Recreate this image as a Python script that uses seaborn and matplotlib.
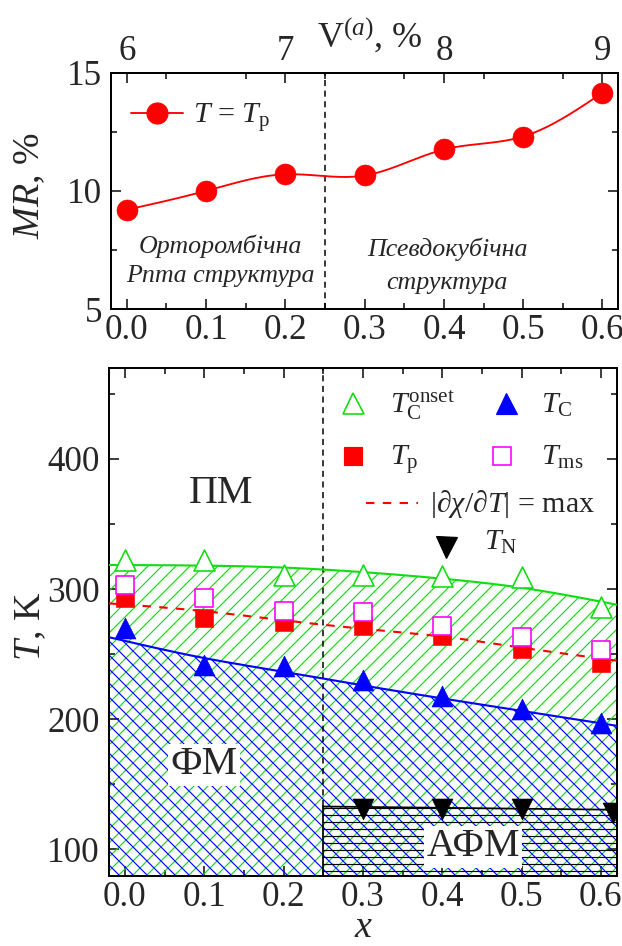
import numpy as np
import pandas as pd
import matplotlib
matplotlib.use("Agg")
import matplotlib.pyplot as plt
import seaborn as sns

# ---------------- data ----------------
x_comp = [0.0, 0.1, 0.2, 0.3, 0.4, 0.5, 0.6]
mr_tp = [9.2, 10.0, 10.7, 10.65, 11.75, 12.3, 14.15]

tc_onset = [322, 322, 311, 311, 310, 309.5, 286]
tc = [270, 242, 241, 230, 218, 208, 197]
tp = [293, 278, 275, 272, 264, 254, 243]
tms = [303, 293, 283, 282, 272, 263, 253]
x_tn = [0.3, 0.4, 0.5, 0.615]
tn = [131, 131, 131, 128]

# guide curves (nodes)
fit_x = [-0.02, 0.1, 0.2, 0.3, 0.4, 0.5, 0.62]
fit_onset = [318.5, 318, 316.5, 313, 308, 301, 288]
fit_tc = [263, 247, 236.5, 226, 216, 206.5, 195]
fit_dchi = [289, 283, 276, 269.5, 263.5, 255, 245]
afm_x = [0.25, 0.62]
afm_top = [133, 130.5]
x_boundary = 0.25

x_ticks = [0.0, 0.1, 0.2, 0.3, 0.4, 0.5, 0.6]
x_ticklabels = ["0.0", "0.1", "0.2", "0.3", "0.4", "0.5", "0.6"]
v_ticks = [6, 7, 8, 9]
mr_ticks = [5, 10, 15]
t_ticks = [100, 200, 300, 400]

# ---------------- style ----------------
sns.set_theme(style="ticks")
plt.rcParams["font.family"] = ["Liberation Serif", "DejaVu Serif"]
plt.rcParams["mathtext.fontset"] = "custom"
plt.rcParams["mathtext.rm"] = "Liberation Serif"
plt.rcParams["mathtext.it"] = "Liberation Serif:italic"
plt.rcParams["mathtext.bf"] = "Liberation Serif:bold"
plt.rcParams["hatch.linewidth"] = 1.0
plt.rcParams["axes.linewidth"] = 1.7

DPI = 84
PX = 72.0 / DPI  # points per pixel
W, H = 622, 946

GREEN = "#11dd11"
BLUE = "#0000ff"
RED = "#ff0000"
MAGENTA = "#ff00ff"

TICK_FS = 35 * PX
LABEL_FS = 38 * PX
VLAB_FS = 36 * PX
LEG_FS = 30 * PX
ANN_FS = 40 * PX
ITAL_FS = 26 * PX


def spline(xk, yk, n=300):
    xk = np.asarray(xk, float)
    yk = np.asarray(yk, float)
    m = len(xk)
    h = np.diff(xk)
    A = np.zeros((m, m))
    b = np.zeros(m)
    A[0, 0] = A[-1, -1] = 1.0
    for i in range(1, m - 1):
        A[i, i - 1] = h[i - 1]
        A[i, i] = 2 * (h[i - 1] + h[i])
        A[i, i + 1] = h[i]
        b[i] = 6 * ((yk[i + 1] - yk[i]) / h[i] - (yk[i] - yk[i - 1]) / h[i - 1])
    M = np.linalg.solve(A, b)
    xs = np.linspace(xk[0], xk[-1], n)
    idx = np.clip(np.searchsorted(xk, xs) - 1, 0, m - 2)
    xi, xj = xk[idx], xk[idx + 1]
    hi = xj - xi
    ys = (M[idx] * (xj - xs) ** 3 / (6 * hi) + M[idx + 1] * (xs - xi) ** 3 / (6 * hi)
          + (yk[idx] / hi - M[idx] * hi / 6) * (xj - xs)
          + (yk[idx + 1] / hi - M[idx + 1] * hi / 6) * (xs - xi))
    return xs, ys


fig = plt.figure(figsize=(W / DPI, H / DPI), dpi=DPI)
ax1 = fig.add_axes([111 / W, 1 - 309 / H, (618.3 - 111) / W, (309 - 72.7) / H])
ax2 = fig.add_axes([109 / W, 1 - 875.5 / H, (616.7 - 109) / W, (875.5 - 367.7) / H])

for ax in (ax1, ax2):
    ax.set_xlim(-0.02, 0.62)
    ax.set_xticks(x_ticks)
    ax.set_xticklabels(x_ticklabels)
    ax.set_xticks(np.arange(0.05, 0.6, 0.1), minor=True)
    ax.tick_params(which="both", direction="in", right=True, width=1.5,
                   labelsize=TICK_FS)
    ax.tick_params(which="major", length=10 * PX)
    ax.tick_params(which="minor", length=6 * PX)
    ax.tick_params(axis="y", pad=9 * PX)
    ax.tick_params(axis="x", pad=5 * PX)
    for s in ax.spines.values():
        s.set_linewidth(1.7)
        s.set_color("black")

# ---------------- top panel ----------------
df_mr = pd.DataFrame({"x": x_comp, "MR": mr_tp})
xs, ys = spline(df_mr["x"], df_mr["MR"])
sns.lineplot(x=xs, y=ys, ax=ax1, color=RED, lw=1.6, sort=False, estimator=None, zorder=3)
sns.scatterplot(data=df_mr, x="x", y="MR", ax=ax1, marker="o", s=(21 * PX) ** 2,
                color=RED, edgecolor=RED, linewidth=0.5, zorder=4, legend=False)
ax1.set_ylim(5, 15)
ax1.set_yticks(mr_ticks)
ax1.set_yticks([7.5, 12.5], minor=True)
ax1.axvline(x_boundary, color="black", lw=1.3, ls=(0, (4, 3)), zorder=2)

# legend sample
ax1.plot([0.005, 0.071], [13.28, 13.28], color=RED, lw=1.6, zorder=3)
ax1.plot([0.0385], [13.28], marker="o", ms=21 * PX, color=RED, zorder=4)
ax1.text(0.0836, 12.86, r"$T$ = $T_\mathrm{p}$", fontsize=LEG_FS, ha="left", va="baseline")

ax1.text(0.1186, 7.64, "Орторомбічна", fontsize=ITAL_FS, style="italic", ha="center", va="center")
ax1.text(0.1186, 6.39, "Pnma структура", fontsize=ITAL_FS, style="italic", ha="center", va="center")
ax1.text(0.404, 7.51, "Псевдокубічна", fontsize=ITAL_FS, style="italic", ha="center", va="center")
ax1.text(0.404, 6.10, "структура", fontsize=ITAL_FS, style="italic", ha="center", va="center")

ax1.set_xlabel("")
ax1.set_ylabel(r"$MR$, %", fontsize=LABEL_FS, va="center")
ax1.yaxis.set_label_coords(-0.16, 0.52)

secax = ax1.secondary_xaxis("top", functions=(lambda t: 6 + 5 * t, lambda v: (v - 6) / 5))
secax.set_xticks(v_ticks)
secax.set_xticklabels([str(v) for v in v_ticks])
secax.set_xticks(np.arange(6.25, 9.0, 0.5), minor=True)
secax.tick_params(which="both", direction="in", width=1.5, labelsize=TICK_FS, pad=5 * PX)
secax.tick_params(which="major", length=10 * PX)
secax.tick_params(which="minor", length=6 * PX)
secax.spines["top"].set_linewidth(1.7)
ax1.tick_params(top=False, which="both")
# top-axis title (V^(a), %), placed between the tick numbers
ax1.text(0.509, (309 - 47) / (309 - 72.7), r"V$^{(a)}$, %", fontsize=VLAB_FS,
         ha="center", va="baseline", transform=ax1.transAxes)

# ---------------- bottom panel ----------------
ax2.set_ylim(80, 470)
ax2.set_yticks(t_ticks)
ax2.set_yticks([150, 250, 350, 450], minor=True)
ax2.tick_params(which="both", top=True)

gx, gy = spline(fit_x, fit_onset)
bx, by = spline(fit_x, fit_tc)
rx, ry = spline(fit_x, fit_dchi)

ax2.fill_between(gx, 80, gy, facecolor="none", edgecolor=GREEN, hatch="//", linewidth=0, zorder=1)
ax2.fill_between(bx, 80, by, facecolor="none", edgecolor=BLUE, hatch="\\\\", linewidth=0, zorder=1.1)
ax2.fill_between(afm_x, 80, afm_top, facecolor="none", edgecolor="black", hatch="--",
                 linewidth=0, zorder=1.2)
ax2.plot(afm_x, afm_top, color="black", lw=1.5, zorder=2)
ax2.plot([afm_x[0], afm_x[0]], [80, afm_top[0]], color="black", lw=1.5, zorder=2)
ax2.plot([x_boundary, x_boundary], [afm_top[0], 470], color="black", lw=1.3,
         ls=(0, (4, 3)), zorder=2)

sns.lineplot(x=gx, y=gy, ax=ax2, color=GREEN, lw=1.8, sort=False, estimator=None, zorder=3)
sns.lineplot(x=bx, y=by, ax=ax2, color=BLUE, lw=1.8, sort=False, estimator=None, zorder=3)
ax2.plot(rx, ry, color=RED, lw=1.8, ls=(0, (4, 4)), zorder=3)

TRI = 21 * PX
SQ = 18 * PX
df_t = pd.DataFrame({"x": x_comp, "onset": tc_onset, "tc": tc, "tp": tp, "tms": tms})
sns.scatterplot(data=df_t, x="x", y="onset", ax=ax2, marker="^", s=TRI ** 2, color="white",
                edgecolor=GREEN, linewidth=1.4, zorder=5, legend=False)
sns.scatterplot(data=df_t, x="x", y="tc", ax=ax2, marker="^", s=TRI ** 2, color=BLUE,
                edgecolor=BLUE, linewidth=0.5, zorder=5, legend=False)
sns.scatterplot(data=df_t, x="x", y="tp", ax=ax2, marker="s", s=SQ ** 2, color=RED,
                edgecolor=RED, linewidth=0.5, zorder=5, legend=False)
sns.scatterplot(data=df_t, x="x", y="tms", ax=ax2, marker="s", s=SQ ** 2, color="white",
                edgecolor=MAGENTA, linewidth=1.4, zorder=6, legend=False)
sns.scatterplot(x=x_tn, y=tn, ax=ax2, marker="v", s=TRI ** 2, color="black",
                edgecolor="black", linewidth=0.5, zorder=5, legend=False)

# legend (drawn manually to match placement)
ax2.plot([0.287], [443], marker="^", ms=TRI, mfc="white", mec=GREEN, mew=1.4, ls="none")
ax2.text(0.3338, 435, r"$T_\mathrm{C}^\mathrm{onset}$", fontsize=LEG_FS, va="baseline")
ax2.plot([0.4803], [443], marker="^", ms=TRI, mfc=BLUE, mec=BLUE, ls="none")
ax2.text(0.525, 435, r"$T_\mathrm{C}$", fontsize=LEG_FS, va="baseline")
ax2.plot([0.287], [402.2], marker="s", ms=SQ, mfc=RED, mec=RED, ls="none")
ax2.text(0.3338, 395.3, r"$T_\mathrm{p}$", fontsize=LEG_FS, va="baseline")
ax2.plot([0.476], [402.2], marker="s", ms=SQ, mfc="white", mec=MAGENTA, mew=1.4, ls="none")
ax2.text(0.525, 395.3, r"$T_\mathrm{ms}$", fontsize=LEG_FS, va="baseline")
ax2.plot([0.304, 0.370], [365.9, 365.9], color=RED, lw=1.8, ls=(0, (4, 4)))
ax2.text(0.3845, 359.4, r"$|\partial\chi/\partial T|$ = max", fontsize=LEG_FS, va="baseline")
ax2.plot([0.4047], [332], marker="v", ms=TRI, mfc="black", mec="black", ls="none")
ax2.text(0.4525, 330, r"$T_\mathrm{N}$", fontsize=LEG_FS, va="baseline")

ax2.text(0.121, 373.6, "ПМ", fontsize=ANN_FS, ha="center", va="center")
ax2.text(0.100, 164.9, "ФМ", fontsize=ANN_FS, ha="center", va="center", zorder=7,
         bbox=dict(facecolor="white", edgecolor="none", pad=2))
ax2.text(0.4389, 102.1, "АФМ", fontsize=ANN_FS, ha="center", va="center", zorder=7,
         bbox=dict(facecolor="white", edgecolor="none", pad=2))

ax2.set_xlabel(r"$x$", fontsize=LABEL_FS, va="baseline")
ax2.xaxis.set_label_coords(0.502, -(937 - 875.5) / (875.5 - 367.7))
ax2.set_ylabel(r"$T$, K", fontsize=LABEL_FS, va="center")
ax2.yaxis.set_label_coords(-0.154, 0.49)

fig.savefig("out.png", dpi=DPI)
